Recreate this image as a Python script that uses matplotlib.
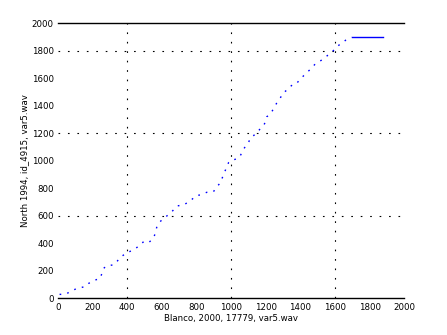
import matplotlib
matplotlib.use('Agg')
import matplotlib.pyplot as plt

# alignment path (Blanco frame vs North frame)
path_x = [9, 42, 71, 110, 157, 177, 215, 244, 263, 283, 321, 340, 359, 398, 436,
          475, 494, 523, 552, 561, 571, 590, 600, 648, 667, 687, 725, 763, 798, 821,
          859, 898, 917, 936, 975, 985, 994, 1042, 1052, 1067, 1081, 1100, 1110, 1123,
          1148, 1171, 1186, 1196, 1206, 1221, 1235, 1254, 1267, 1283, 1298, 1317, 1336,
          1360, 1379, 1398, 1437, 1465, 1485, 1523, 1548, 1571, 1590, 1610, 1639, 1663,
          1677, 1696]
path_y = [30, 30, 50, 74, 86, 110, 134, 147, 219, 239, 244, 268, 299, 333, 353,
          389, 413, 406, 438, 474, 522, 559, 571, 620, 644, 673, 680, 709, 748, 753,
          772, 777, 813, 838, 959, 988, 1000, 1020, 1036, 1075, 1104, 1133, 1165, 1177,
          1206, 1238, 1255, 1279, 1322, 1335, 1359, 1400, 1431, 1456, 1492, 1511, 1535,
          1560, 1565, 1594, 1643, 1675, 1705, 1734, 1758, 1783, 1802, 1832, 1856, 1880,
          1892, 1900]
tail_x = [1696, 1879]
tail_y = [1900, 1900]

ticks = list(range(0, 2001, 200))
grid_x = [400, 1000, 1600]
grid_y = [600, 1200, 1800]

fig = plt.figure(figsize=(4.47, 3.35), dpi=100)
ax = fig.add_axes([0.1298, 0.109, 0.7747, 0.821])

for gx in grid_x:
    ax.axvline(gx, color='black', linestyle=(0, (1.5, 7)), linewidth=0.8, zorder=1)
for gy in grid_y:
    ax.axhline(gy, color='black', linestyle=(0, (1.5, 7)), linewidth=0.8, zorder=1)

ax.plot(path_x, path_y, color='blue', linestyle=(0, (1.2, 4.5)), linewidth=1.0, zorder=2)
ax.plot(tail_x, tail_y, color='blue', linewidth=1.0, zorder=2)

ax.set_xlim(0, 2000)
ax.set_ylim(0, 2000)
ax.set_xticks(ticks)
ax.set_yticks(ticks)
ax.set_xticks(grid_x, minor=True)
ax.set_yticks(grid_y, minor=True)
ax.tick_params(which='major', length=0, labelsize=6.2, pad=3)
ax.tick_params(which='minor', length=4, direction='in', width=1,
               top=True, bottom=True, left=True, right=True)

for side in ['left', 'right']:
    ax.spines[side].set_visible(False)
for side in ['top', 'bottom']:
    ax.spines[side].set_linewidth(1.0)

ax.set_xlabel('Blanco, 2000, 17779, var5.wav', fontsize=6.2, labelpad=2)
ax.set_ylabel('North 1994, id_4915, var5.wav', fontsize=6.2, labelpad=2)

fig.savefig('out.png', dpi=100)
